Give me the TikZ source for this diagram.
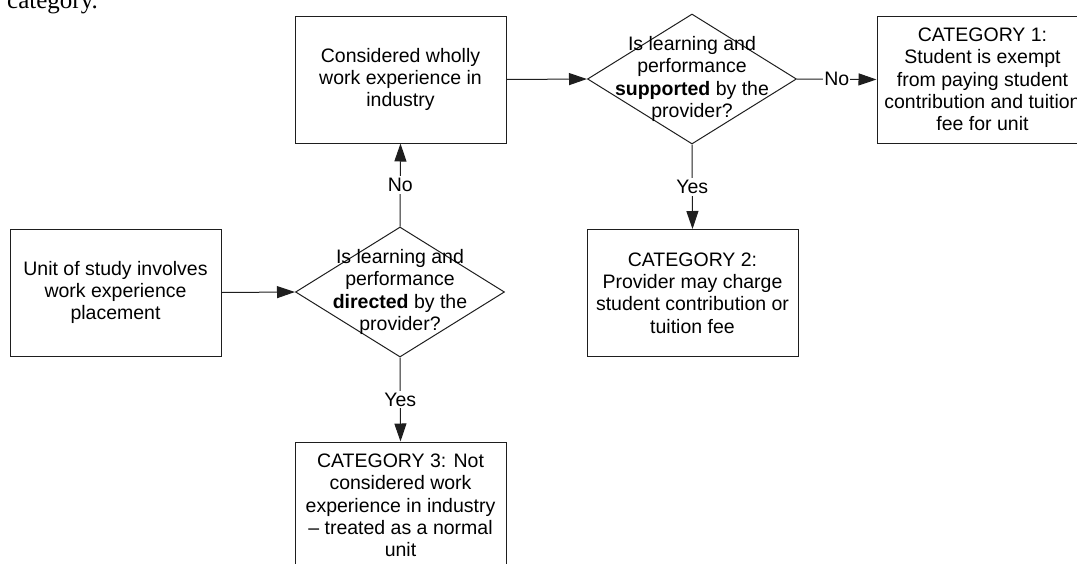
\documentclass[tikz,border=0pt]{standalone}
\usepackage{fontspec}
\setmainfont{Liberation Sans}
\newfontfamily\capserif{Liberation Serif}
\usetikzlibrary{arrows.meta,shapes.geometric}
\definecolor{linec}{RGB}{30,30,30}
\begin{document}
\begin{tikzpicture}[x=1pt,y=-1pt,
  txt/.style={align=center,font=\fontsize{19.5}{22.3}\selectfont},
  box/.style={draw=linec,line width=1pt,minimum width=211pt,minimum height=127pt,inner sep=0pt,txt},
  dia/.style={draw=linec,line width=1pt,diamond,minimum width=209pt,minimum height=130pt,inner sep=0pt},
  conn/.style={draw=linec,line width=1pt,-{Triangle[length=18pt,width=12pt]}},
  lbl/.style={fill=white,inner sep=2pt,font=\fontsize{19.5}{21}\selectfont}]
\useasboundingbox (0,0) rectangle (1077,563);
\clip (0,0) rectangle (1077,563);
\node[anchor=base west,inner sep=0pt,font=\capserif\fontsize{25}{30}\selectfont] (cap) at (7,8.5) {category.};
\node[box] (cons) at (400.5,79.5) {Considered wholly\\work experience in\\industry};
\node[dia] (d1) at (692,79) {};
\node[txt] (d1t) at (d1) {Is learning and\\performance\\\textbf{supported} by the\\provider?};
\node[box] (cat1) at (982.5,79.5) {CATEGORY 1:\\Student is exempt\\from paying student\\contribution and tuition\\fee for unit};
\node[box] (unit) at (115.5,292.5) {Unit of study involves\\work experience\\placement};
\node[dia] (d2) at (400,292) {};
\node[txt] (d2t) at (d2) {Is learning and\\performance\\\textbf{directed} by the\\provider?};
\node[box] (cat2) at (692.5,293) {CATEGORY 2:\\Provider may charge\\student contribution or\\tuition fee};
\node[box] (cat3) at (400.5,505.5) {CATEGORY 3: Not\\considered work\\experience in industry\\– treated as a normal\\unit};
\draw[conn] (unit.east) -- (d2.west);
\draw[conn] (d2.north) -- node[lbl] {No} (cons.south);
\draw[conn] (cons.east) -- (d1.west);
\draw[conn] (d1.east) -- node[lbl,inner xsep=1pt] {No} (cat1.west);
\draw[conn] (d1.south) -- node[lbl] {Yes} (cat2.north);
\draw[conn] (d2.south) -- node[lbl] {Yes} (cat3.north);
\end{tikzpicture}
\end{document}
